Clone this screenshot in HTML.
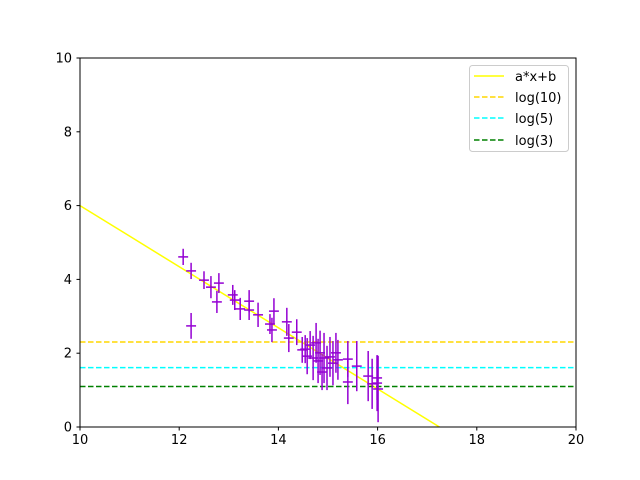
<!DOCTYPE html>
<html><head><meta charset="utf-8"><style>
html,body{margin:0;padding:0;background:#fff;width:640px;height:480px;overflow:hidden}
svg{display:block;font-family:"DejaVu Sans","Liberation Sans",sans-serif}
</style></head><body>
<svg id="c" width="640" height="480">
<rect x="0" y="0" width="640" height="480" fill="#fff"/>
<g id="plot"></g>
<rect x="80" y="58" width="496" height="369" fill="none" stroke="#000" stroke-width="1"/>
<g id="ticks"></g>
<g>
<rect x="469.5" y="65.5" width="99" height="86" rx="3" fill="#fff" fill-opacity="0.8" stroke="#ccc"/>
<line x1="474" y1="76" x2="504" y2="76" stroke="#ffff00" stroke-width="1.5"/>
<text x="515" y="81" font-size="13">a*x+b</text>
<line x1="474" y1="97" x2="504" y2="97" stroke="#ffd700" stroke-width="1.5" stroke-dasharray="5.5,2.5"/>
<text x="515" y="102" font-size="13">log(10)</text>
<line x1="474" y1="118" x2="504" y2="118" stroke="#00ffff" stroke-width="1.5" stroke-dasharray="5.5,2.5"/>
<text x="515" y="123" font-size="13">log(5)</text>
<line x1="474" y1="140" x2="504" y2="140" stroke="#008000" stroke-width="1.5" stroke-dasharray="5.5,2.5"/>
<text x="515" y="145" font-size="13">log(3)</text>
</g>
</svg>
<script>
const xs=[12.08,12.24,12.24,12.50,12.64,12.80,12.76,13.08,13.12,13.23,13.41,13.41,13.59,13.83,13.87,13.91,14.17,14.21,14.37,14.48,14.54,14.58,14.64,14.70,14.76,14.80,14.84,14.88,14.92,14.98,15.04,15.10,15.16,15.20,15.40,15.40,15.58,15.81,15.89,15.99,15.99,16.01];
const ys=[4.61,4.23,2.74,3.98,3.79,3.90,3.39,3.58,3.44,3.20,3.41,3.17,3.04,2.79,2.63,3.14,2.85,2.41,2.57,2.09,2.11,1.92,2.22,1.87,2.28,1.79,2.01,1.49,1.87,1.60,1.90,1.73,2.01,1.82,1.84,1.22,1.65,1.38,1.17,1.33,1.19,1.03];
const yerr=[0.22,0.22,0.35,0.24,0.30,0.27,0.30,0.27,0.27,0.30,0.30,0.27,0.33,0.27,0.33,0.35,0.38,0.38,0.35,0.35,0.38,0.49,0.38,0.60,0.54,0.60,0.60,0.49,0.68,0.60,0.54,0.60,0.54,0.54,0.49,0.60,0.68,0.68,0.68,0.60,0.76,0.90];
const xerr=0.1;
const fitA=-0.828, fitB=14.28;
const hlines=[Math.log(10),Math.log(5),Math.log(3)];
const hcolors=['#ffd700','#00ffff','#008000'];
const hnames=['log10-line','log5-line','log3-line'];
const xticks=[10,12,14,16,18,20];
const yticks=[0,2,4,6,8,10];
const X=v=>80+(v-10)/10*496, Y=v=>427-v/10*369;
const NS='http://www.w3.org/2000/svg';
const plot=document.getElementById('plot'), tk=document.getElementById('ticks');
function mk(p,tag,a){const e=document.createElementNS(NS,tag);for(const k in a)e.setAttribute(k,a[k]);p.appendChild(e);return e;}
const cp=mk(plot,'clipPath',{id:'clp'});mk(cp,'rect',{x:80,y:58,width:496,height:369});
const g=mk(plot,'g',{'clip-path':'url(#clp)'});
const fit=mk(g,'line',{x1:X(10),y1:Y(fitA*10+fitB),x2:X(20),y2:Y(fitA*20+fitB),stroke:'#ffff00','stroke-width':1.5});


hlines.forEach((v,i)=>{const l=mk(g,'line',{x1:X(10),y1:Y(v),x2:X(20),y2:Y(v),stroke:hcolors[i],'stroke-width':1.5,'stroke-dasharray':'5.5,2.5'});

});
xs.forEach((x,i)=>{const e=mk(g,'g',{stroke:'#9400d3','stroke-width':1.5});


mk(e,'line',{x1:X(x),y1:Y(ys[i]-yerr[i]),x2:X(x),y2:Y(ys[i]+yerr[i])});
mk(e,'line',{x1:X(x-xerr),y1:Y(ys[i]),x2:X(x+xerr),y2:Y(ys[i])});});
xticks.forEach(t=>{mk(tk,'line',{x1:X(t),y1:427,x2:X(t),y2:430.5,stroke:'#000'});
const s=mk(tk,'text',{x:X(t),y:444,'font-size':13,'text-anchor':'middle'});s.textContent=t;

});
yticks.forEach(t=>{mk(tk,'line',{x1:76.5,y1:Y(t),x2:80,y2:Y(t),stroke:'#000'});
const s=mk(tk,'text',{x:72,y:Y(t)+4.5,'font-size':13,'text-anchor':'end'});s.textContent=t;

});
</script>
</body></html>
